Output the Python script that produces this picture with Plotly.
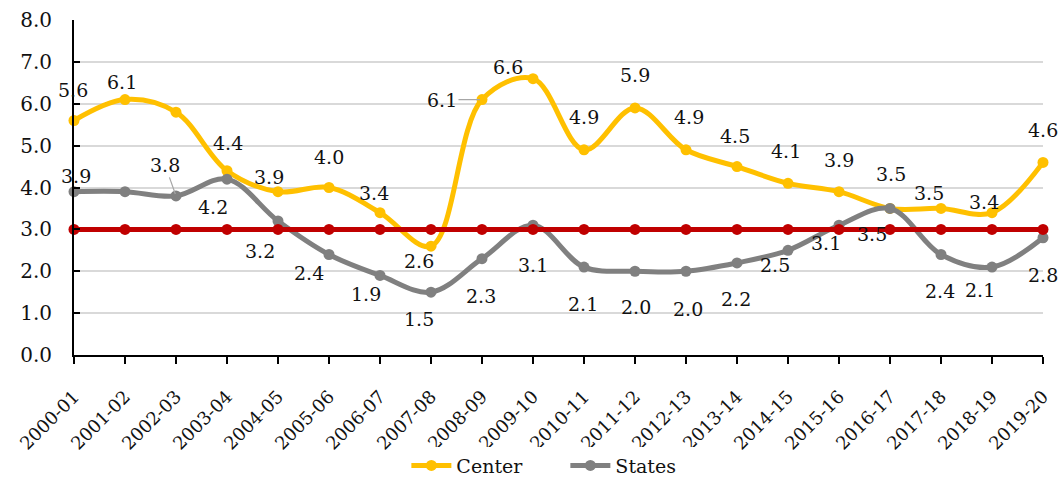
import plotly.graph_objects as go

# Fiscal years on the x axis
years = ["2000-01", "2001-02", "2002-03", "2003-04", "2004-05", "2005-06", "2006-07",
         "2007-08", "2008-09", "2009-10", "2010-11", "2011-12", "2012-13", "2013-14",
         "2014-15", "2015-16", "2016-17", "2017-18", "2018-19", "2019-20"]

# Deficit series (% of GDP)
center = [5.6, 6.1, 5.8, 4.4, 3.9, 4.0, 3.4, 2.6, 6.1, 6.6,
          4.9, 5.9, 4.9, 4.5, 4.1, 3.9, 3.5, 3.5, 3.4, 4.6]
states = [3.9, 3.9, 3.8, 4.2, 3.2, 2.4, 1.9, 1.5, 2.3, 3.1,
          2.1, 2.0, 2.0, 2.2, 2.5, 3.1, 3.5, 2.4, 2.1, 2.8]
threshold = [3.0] * len(years)

y_ticks = [0, 1, 2, 3, 4, 5, 6, 7, 8]

# Pixel offsets (dx, dy) of each value label from its marker; None = no label
center_offsets = [(-1, -31), (-3, -18), None, (1, -28), (-9, -15), (0, -31), (-6, -20),
                  (-12, 15), "leader", (-25, -12), (0, -33), (0, -33), (3, -33), (-2, -31),
                  (-2, -32), (0, -32), (1, -34), (-12, -15), (-8, -11), (0, -32)]
states_offsets = [(2, -16), None, "leader", (-14, 28), (-18, 30), (-20, 18), (-14, 19),
                  (-12, 27), (-1, 37), (0, 40), (-1, 37), (1, 36), (2, 38), (-1, 36),
                  (-13, 15), (-13, 18), (-18, 26), (-1, 36), (-12, 23), (0, 37)]
leader_offsets = {("center", 8): (-40, 0), ("states", 2): (-11, -31)}

GOLD = "#FFC000"
GREY = "#808080"
RED = "#C00000"
FONT = "DejaVu Serif"
SIZE = 19
INK = "#111111"

fig = go.Figure()
fig.add_trace(go.Scatter(
    x=years, y=center, name="Center", mode="lines+markers",
    line=dict(color=GOLD, width=5, shape="spline", smoothing=1.0),
    marker=dict(color=GOLD, size=11), cliponaxis=False))
fig.add_trace(go.Scatter(
    x=years, y=states, name="States", mode="lines+markers",
    line=dict(color=GREY, width=5, shape="spline", smoothing=1.0),
    marker=dict(color=GREY, size=11), cliponaxis=False))
fig.add_trace(go.Scatter(
    x=years, y=threshold, name="Target", mode="lines+markers", showlegend=False,
    line=dict(color=RED, width=5),
    marker=dict(color=RED, size=11), cliponaxis=False))

annotations = []
for key, vals, offs in (("center", center, center_offsets), ("states", states, states_offsets)):
    for i, (v, off) in enumerate(zip(vals, offs)):
        if off is None:
            continue
        if off == "leader":
            ax, ay = leader_offsets[(key, i)]
            annotations.append(dict(
                x=years[i], y=v, text=f"{v:.1f}", showarrow=True, arrowhead=0,
                arrowwidth=1.2, arrowcolor="#A6A6A6", ax=ax, ay=ay, standoff=2,
                font=dict(family=FONT, size=SIZE, color=INK)))
        else:
            dx, dy = off
            annotations.append(dict(
                x=years[i], y=v, text=f"{v:.1f}", showarrow=False,
                xshift=dx, yshift=-dy,
                font=dict(family=FONT, size=SIZE, color=INK)))

fig.update_layout(
    width=1064, height=479,
    margin=dict(l=74, r=21, t=20, b=124, autoexpand=False),
    paper_bgcolor="white", plot_bgcolor="white",
    font=dict(family=FONT, size=SIZE, color=INK),
    annotations=annotations,
    legend=dict(orientation="h", x=0.343, xanchor="left", y=-0.33, yanchor="middle",
                entrywidth=104, entrywidthmode="pixels",
                font=dict(family=FONT, size=SIZE, color=INK), itemwidth=40),
    xaxis=dict(
        type="category", range=[0, 19], showgrid=False, automargin=False,
        showline=True, linecolor="black", linewidth=2,
        ticks="outside", ticklen=7, tickwidth=1.5, tickcolor="black",
        tickangle=-45, ticklabelstandoff=15,
        tickfont=dict(family=FONT, size=18, color=INK)),
    yaxis=dict(
        range=[0, 8], tickvals=y_ticks, tickformat=".1f", automargin=False,
        showgrid=True, gridcolor="#D9D9D9", gridwidth=1.5,
        showline=True, linecolor="black", linewidth=2, zeroline=False,
        ticks="inside", ticklen=6, tickwidth=1.5, tickcolor="black",
        ticklabelstandoff=16,
        tickfont=dict(family=FONT, size=20, color=INK)),
)

fig.write_html("out.html")
